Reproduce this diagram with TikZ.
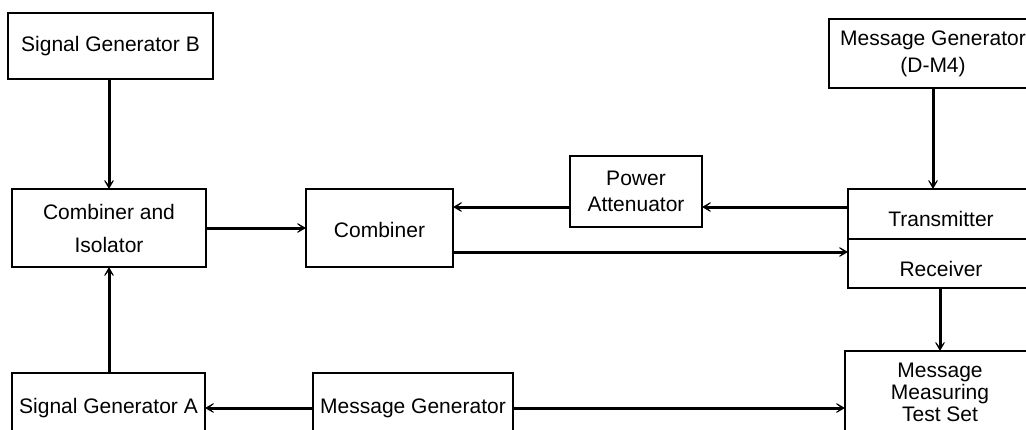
\documentclass[tikz,border=0pt]{standalone}
\usepackage{fontspec}
\setmainfont{Liberation Sans}
\usetikzlibrary{positioning, arrows.meta, calc}
\newcommand{\lowtext}[1]{\raisebox{-2.5pt}[\height][\depth]{#1}}
\tikzset{
    block/.style={
        draw,
        line width=0.8pt,
        align=center,
        inner sep=0pt,
        outer sep=0pt,
        font=\fontsize{10.5}{11}\selectfont,
    },
    link/.style={
        line width=1.5pt,
        -{Stealth[length=7pt, width=8pt, inset=5.2pt]},
    }
}

\begin{document}
\begin{tikzpicture}[x=0.5pt, y=-0.5pt]
   \useasboundingbox (0,0) rectangle (1026,429);
   \clip (0,0) rectangle (1026,429);
   \node[block, minimum width=102.5pt, minimum height=33pt] (sgB) at (110.5,46) {Signal Generator B};
   \node[block, minimum width=104pt, minimum height=34.5pt] (mgD) at (933,53.5) {Message Generator\\[2.5pt](D-M4)};
   \node[block, minimum width=97pt, minimum height=39pt] (ci) at (109,228) {Combiner and\\[5.5pt]Isolator};
   \node[block, minimum width=73.5pt, minimum height=39pt] (comb) at (379.5,228) {\raisebox{-1pt}[\height][\depth]{Combiner}};
   \node[block, minimum width=66pt, minimum height=35.5pt] (pa) at (636,191.5) {Power\\[2pt]Attenuator};
   \node[block, minimum width=93pt, minimum height=25pt] (tx) at (941,214) {\lowtext{Transmitter}};
   \node[block, minimum width=93pt, minimum height=24.5pt, below=0pt of tx] (rx) {\lowtext{Receiver}};
   \node[block, minimum width=95pt, minimum height=41pt] (mm) at (940,392) {Message\\Measuring\\Test Set};
   \node[block, minimum width=96.5pt, minimum height=35pt] (sgA) at (108.5,408) {Signal Generator A};
   \node[block, minimum width=100pt, minimum height=35pt] (mg) at (413,408) {Message Generator};
   % helper points for the offset links
   \coordinate (pin) at ($(pa.east)+(0,15.5)$);
   \coordinate (pout) at ($(pa.west)+(0,15.5)$);
   \coordinate (cout) at ($(comb.east)+(0,24)$);
   \draw[link] (sgB.south -| ci.north) -- (ci.north);
   \draw[link] (sgA.north -| ci.south) -- (ci.south);
   \draw[link] (ci.east) -- (comb.west);
   \draw[link] (pin -| tx.west) -- (pin);
   \draw[link] (pout) -- (pout -| comb.east);
   \draw[link] (cout) -- (cout -| rx.west);
   \draw[link] (mgD.south) -- (mgD.south |- tx.north);
   \draw[link] (rx.south -| mm.north) -- (mm.north);
   \draw[link] (mg.west) -- (sgA.east);
   \draw[link] (mg.east) -- (mg.east -| mm.west);
\end{tikzpicture}
\end{document}
